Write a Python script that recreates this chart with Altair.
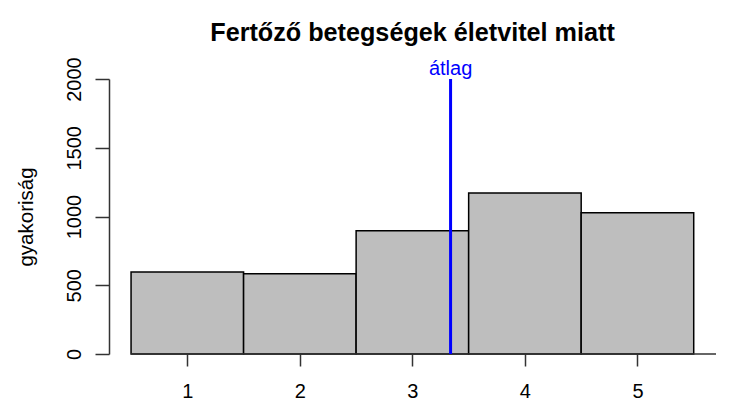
import altair as alt
import pandas as pd

# ---- data ----
categories = [1, 2, 3, 4, 5]
frequencies = [596, 584, 897, 1171, 1028]
y_ticks = [0, 500, 1000, 1500, 2000]
title_text = "Fertőző betegségek életvitel miatt"
y_title = "gyakoriság"
mean_label = "átlag"

mean_value = sum(c * f for c, f in zip(categories, frequencies)) / sum(frequencies)

bars_df = pd.DataFrame({"cat": categories, "freq": frequencies})
mean_df = pd.DataFrame({"x": [mean_value], "y0": [0], "y1": [2000], "label": [mean_label]})
axis_df = pd.DataFrame({"x0": [0.5], "x1": [5.698], "y": [0]})

FONT = "Liberation Sans"
xscale = alt.Scale(domain=[0.304, 5.698], nice=False, zero=False)
yscale = alt.Scale(domain=[0, 2000], nice=False, zero=True)

x_axis = alt.Axis(
    values=categories, title=None, domain=False, grid=False,
    tickSize=12, tickWidth=1.5, tickColor="#333333",
    labelFont=FONT, labelFontSize=20, labelColor="black", labelPadding=15,
    format="d",
)
y_axis = alt.Axis(
    values=y_ticks, grid=False, domain=True, domainColor="#333333", domainWidth=1.5,
    tickSize=14, tickWidth=1.5, tickColor="#333333",
    labelFont=FONT, labelFontSize=20, labelColor="black", format="d",
    labelAngle=270, labelAlign="center", labelBaseline="bottom", labelPadding=11,
    title=y_title, titleFont=FONT, titleFontSize=20.5, titleFontWeight="normal",
    titleColor="black", titleAngle=270, titleAlign="center",
    titleBaseline="alphabetic", titleX=-77, titleY=137.5,
)

bars = alt.Chart(bars_df).transform_calculate(
    left="datum.cat - 0.5", right="datum.cat + 0.5"
).mark_rect(fill="#BEBEBE", stroke="black", strokeWidth=1.5).encode(
    x=alt.X("left:Q", scale=xscale, axis=x_axis),
    x2="right:Q",
    y=alt.Y("freq:Q", scale=yscale, axis=y_axis),
    y2=alt.datum(0),
)

base_line = alt.Chart(axis_df).mark_rule(color="#333333", strokeWidth=1.5).encode(
    x=alt.X("x0:Q", scale=xscale), x2="x1:Q", y=alt.Y("y:Q", scale=yscale)
)

mean_rule = alt.Chart(mean_df).mark_rule(color="#0000FF", strokeWidth=3).encode(
    x=alt.X("x:Q", scale=xscale), y=alt.Y("y0:Q", scale=yscale), y2="y1:Q"
)

mean_text = alt.Chart(mean_df).mark_text(
    color="#0000FF", font=FONT, fontSize=20, align="center", baseline="bottom"
).encode(
    x=alt.X("x:Q", scale=xscale), y=alt.Y("y1:Q", scale=yscale), text="label:N"
)

chart = alt.layer(bars, base_line, mean_rule, mean_text).properties(
    width=607,
    height=275,
    title=alt.Title(title_text, font=FONT, fontSize=25.2, fontWeight="bold",
                    color="black", anchor="middle", offset=11),
    padding={"left": 101, "top": 71, "right": 30, "bottom": 46},
    autosize=alt.AutoSizeParams(type="none"),
    background="white",
).configure_view(stroke=None)

chart.save("out.html", embed_options={"renderer": "svg", "actions": False})
